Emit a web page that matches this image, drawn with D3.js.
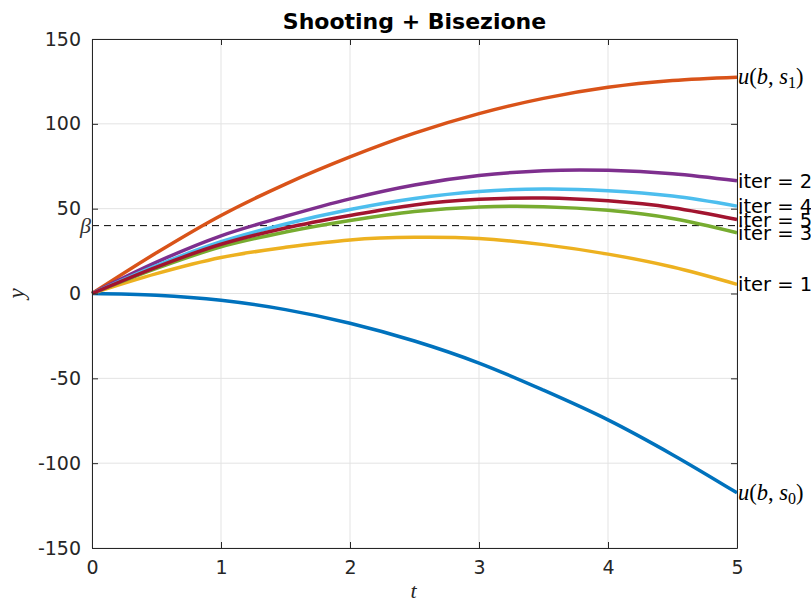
<!DOCTYPE html>
<html>
<head>
<meta charset="utf-8">
<script src="https://cdn.jsdelivr.net/npm/d3@7"></script>
<style>
  html, body { margin: 0; padding: 0; background: #ffffff; }
  svg { display: block; }
</style>
</head>
<body>
<svg id="chart" width="811" height="603"></svg>
<script>
// ---- data ----
const tValues = [0, 0.5, 1, 1.5, 2, 2.5, 3, 3.5, 4, 4.5, 5];
const s0Values = [0, -1, -4, -9.5, -17.5, -28, -41, -57, -74.5, -95, -117.5];
const s1Values = [0, 24, 46, 64.5, 80.5, 94.5, 106, 115, 121.5, 125.5, 127.5];
const iter1Values = [0, 11.7, 21.2, 27.2, 31.6, 33.1, 32.4, 28.8, 23.2, 15.6, 5.4];
const iter2Values = [0, 18.5, 34, 45.5, 55.8, 64, 69.5, 72.4, 72.6, 70.6, 66.4];
const iter3Values = [0, 14.8, 27.5, 36.2, 43, 48.3, 51, 51.2, 49, 44.2, 35.8];
const iter4Values = [0, 16.5, 30.5, 41, 49.5, 56, 60.1, 61.6, 60.6, 57.4, 51.5];
const iter5Values = [0, 15.6, 29, 38.6, 46, 52.2, 55.5, 56.3, 54.6, 50.6, 43.6];
const betaValue = 40;
const xTicks = [0, 1, 2, 3, 4, 5];
const yTicks = [-150, -100, -50, 0, 50, 100, 150];
const seriesNames = ["s0", "s1", "iter = 1", "iter = 2", "iter = 3", "iter = 4", "iter = 5"];
const seriesColors = ["#0072BD", "#D95319", "#EDB120", "#7E2F8E", "#77AC30", "#4DBEEE", "#A2142F"];
const titleText = "Shooting + Bisezione";

const seriesList = [s0Values, s1Values, iter1Values, iter2Values, iter3Values, iter4Values, iter5Values]
  .map((vals, i) => ({ name: seriesNames[i], color: seriesColors[i],
                       points: vals.map((v, j) => [tValues[j], v]) }));

// ---- layout ----
const pL = 92, pR = 737, pT = 39, pB = 548;
const svg = d3.select("#chart");
const x = d3.scaleLinear().domain([0, 5]).range([pL, pR]);
const y = d3.scaleLinear().domain([-150, 150]).range([pB, pT]);
const axisColor = "#262626";
const sans = "'DejaVu Sans', sans-serif";
const serif = "'Liberation Serif', 'DejaVu Serif', serif";

// grid
const grid = svg.append("g");
grid.selectAll("line.gx").data(xTicks).enter().append("line")
  .attr("x1", d => x(d)).attr("x2", d => x(d)).attr("y1", pT).attr("y2", pB)
  .attr("stroke", "#e3e3e3").attr("stroke-width", 1);
grid.selectAll("line.gy").data(yTicks).enter().append("line")
  .attr("x1", pL).attr("x2", pR).attr("y1", d => y(d)).attr("y2", d => y(d))
  .attr("stroke", "#e3e3e3").attr("stroke-width", 1);

// beta dashed line
svg.append("line")
  .attr("x1", x(0)).attr("x2", x(5)).attr("y1", y(betaValue)).attr("y2", y(betaValue))
  .attr("stroke", "#000").attr("stroke-width", 1).attr("stroke-dasharray", "7,5");

// curves
const line = d3.line().x(d => x(d[0])).y(d => y(d[1])).curve(d3.curveCatmullRom.alpha(0.5));
svg.append("g").selectAll("path").data(seriesList).enter().append("path")
  .attr("d", d => line(d.points))
  .attr("fill", "none").attr("stroke", d => d.color).attr("stroke-width", 3.5)
  .attr("stroke-linejoin", "round").attr("stroke-linecap", "butt");

// axes (ticks inward on all sides)
const tickLen = 6;
const axB = svg.append("g").attr("transform", `translate(0,${pB})`)
  .call(d3.axisBottom(x).tickValues(xTicks).tickSizeInner(-tickLen).tickSizeOuter(0).tickPadding(13).tickFormat(d3.format("d")));
const axT = svg.append("g").attr("transform", `translate(0,${pT})`)
  .call(d3.axisTop(x).tickValues(xTicks).tickSizeInner(-tickLen).tickSizeOuter(0).tickFormat(""));
const axL = svg.append("g").attr("transform", `translate(${pL},0)`)
  .call(d3.axisLeft(y).tickValues(yTicks).tickSizeInner(-tickLen).tickSizeOuter(0).tickPadding(11)
        .tickFormat(d => d < 0 ? "-" + Math.abs(d) : String(d)));
const axR = svg.append("g").attr("transform", `translate(${pR},0)`)
  .call(d3.axisRight(y).tickValues(yTicks).tickSizeInner(-tickLen).tickSizeOuter(0).tickFormat(""));
[axB, axT, axL, axR].forEach(a => {
  a.select(".domain").attr("stroke", axisColor).attr("stroke-width", 1);
  a.selectAll(".tick line").attr("stroke", axisColor).attr("stroke-width", 1);
  a.selectAll("text").attr("fill", axisColor).style("font-family", sans).style("font-size", "19px");
});
axB.selectAll(".tick text").attr("dy", "0.71em");

// title
svg.append("text").attr("x", (pL + pR) / 2).attr("y", 29)
  .attr("text-anchor", "middle").style("font-family", sans).style("font-weight", "bold")
  .style("font-size", "22px").attr("fill", "#000").text(titleText);

// axis labels
svg.append("text").attr("x", x(2.5) - 1).attr("y", 598)
  .attr("text-anchor", "middle").style("font-family", serif).style("font-style", "italic")
  .style("font-size", "22px").attr("fill", axisColor).text("t");
svg.append("text").attr("transform", `translate(24,${y(0)}) rotate(-90)`)
  .attr("text-anchor", "middle").style("font-family", serif).style("font-style", "italic")
  .style("font-size", "23px").attr("fill", axisColor).text("y");

// beta label
svg.append("text").attr("x", pL - 1).attr("y", y(betaValue)).attr("dy", "0.32em")
  .attr("text-anchor", "end").style("font-family", serif).style("font-style", "italic")
  .style("font-size", "22px").attr("fill", "#333").text("β");

// end labels
const endX = x(5) + 1;
function mathLabel(vals, sub) {
  const yEnd = y(vals[vals.length - 1]);
  const t = svg.append("text").attr("x", endX).attr("y", yEnd).attr("dy", "0.3em")
    .style("font-family", serif).style("font-size", "22.5px").attr("fill", "#000");
  t.append("tspan").style("font-style", "italic").text("u");
  t.append("tspan").text("(");
  t.append("tspan").style("font-style", "italic").text("b");
  t.append("tspan").text(", ");
  t.append("tspan").style("font-style", "italic").text("s");
  t.append("tspan").attr("dy", "0.25em").style("font-size", "16px").text(sub);
  t.append("tspan").attr("dy", "-0.18em").text(")");
}
mathLabel(s1Values, "1");
mathLabel(s0Values, "0");
[iter1Values, iter2Values, iter3Values, iter4Values, iter5Values].forEach((vals, i) => {
  svg.append("text").attr("x", endX).attr("y", y(vals[vals.length - 1])).attr("dy", "0.36em")
    .style("font-family", sans).style("font-size", "19.5px").attr("fill", "#000")
    .text(seriesNames[i + 2]);
});
</script>
</body>
</html>
